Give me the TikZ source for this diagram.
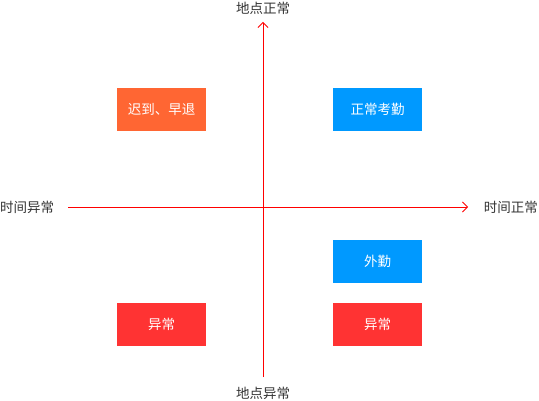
\documentclass[tikz,border=0pt]{standalone}
\usepackage{fontspec}
\setmainfont{Noto Sans CJK SC}
\usetikzlibrary{arrows.meta}
\definecolor{cOrange}{HTML}{FF6633}
\definecolor{cBlue}{HTML}{0099FF}
\definecolor{cRed}{HTML}{FF3333}
\definecolor{cText}{HTML}{333333}
\tikzset{
  box/.style={minimum width=89pt, minimum height=43pt, inner sep=0pt, text=white, font=\fontsize{13.5}{15}\selectfont},
  lbl/.style={text=cText, inner sep=0pt, font=\fontsize{13.5}{15}\selectfont},
  axis/.style={draw=red, line width=0.8pt, -{Straight Barb[length=5pt,width=10pt,line width=0.8pt]}}
}
\begin{document}
\begin{tikzpicture}[x=1pt,y=-1pt]
\useasboundingbox (0,0) rectangle (539,401);
\node[box, fill=cOrange] (late) at (161.5,109.5) {迟到、早退};
\node[box, fill=cBlue] (normal) at (377.5,109.5) {正常考勤};
\node[box, fill=cBlue] (out) at (377.5,261.5) {外勤};
\node[box, fill=cRed] (ab1) at (161.5,324.5) {异常};
\node[box, fill=cRed] (ab2) at (377.5,324.5) {异常};
\node[lbl] (top) at (263,8) {地点正常};
\node[lbl] (bot) at (263,393) {地点异常};
\node[lbl, anchor=west] (left) at (0,207) {时间异常};
\node[lbl, anchor=east] (right) at (538,207) {时间正常};
\coordinate (vb) at (263,377);
\coordinate (vt) at (263,22);
\coordinate (hl) at (68,207);
\coordinate (hr) at (468,207);
\draw[axis] (vb) -- (vt);
\draw[axis] (hl) -- (hr);
\end{tikzpicture}
\end{document}
